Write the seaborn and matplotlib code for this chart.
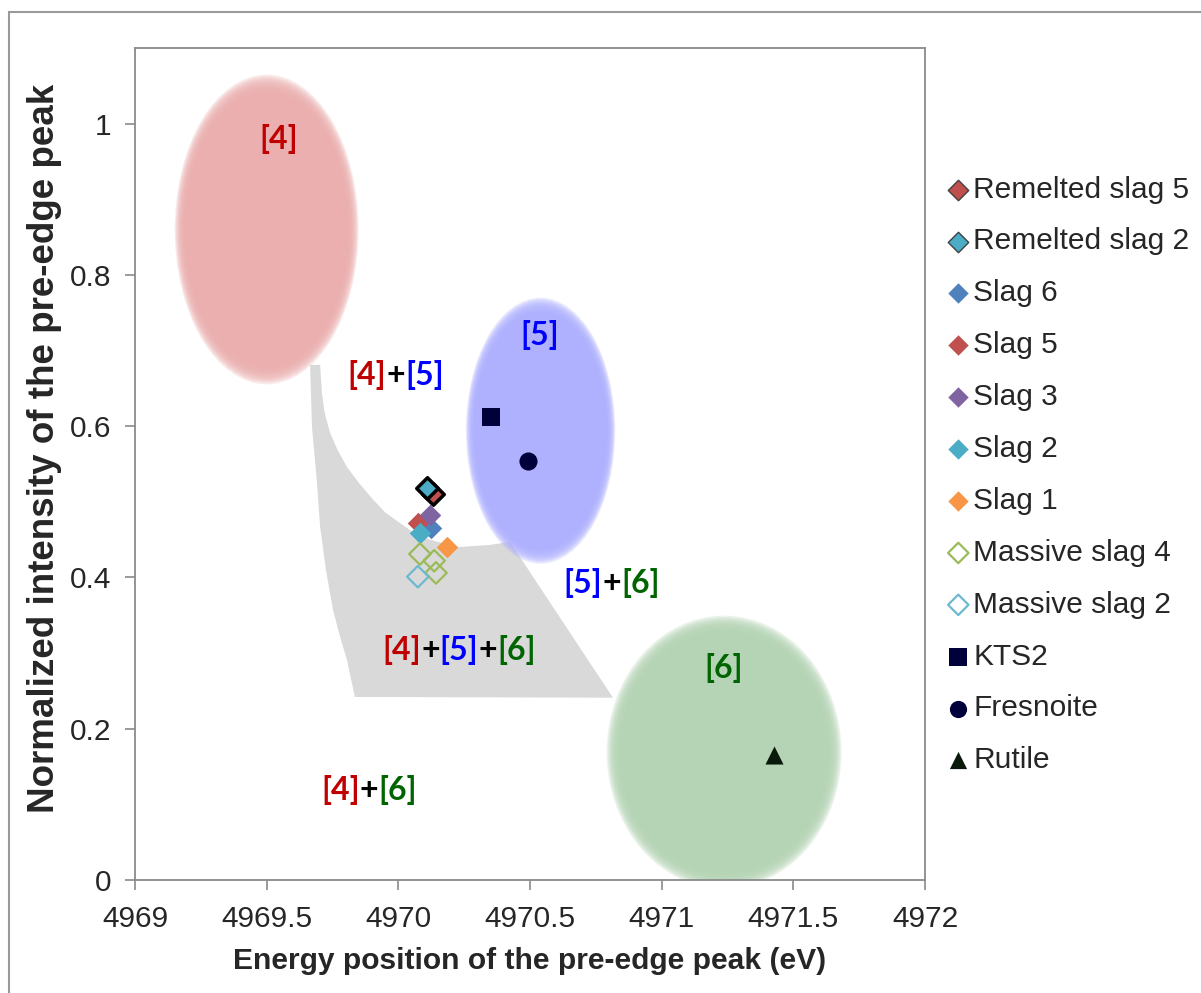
import numpy as np
import pandas as pd
import matplotlib
matplotlib.use("Agg")
import matplotlib.pyplot as plt
import seaborn as sns
from matplotlib.patches import Ellipse, Polygon, Rectangle
from matplotlib.offsetbox import TextArea, HPacker, AnnotationBbox
from matplotlib.ticker import FuncFormatter, MultipleLocator

# ---- données ----
series = ["Remelted slag 5", "Remelted slag 2", "Slag 6", "Slag 5", "Slag 3", "Slag 2", "Slag 1",
          "Massive slag 4", "Massive slag 2", "KTS2", "Fresnoite", "Rutile"]
energy = [[4970.133], [4970.108], [4970.124], [4970.074], [4970.120], [4970.082], [4970.184],
          [4970.082, 4970.136, 4970.143], [4970.074], [4970.352], [4970.493], [4971.427]]
intensity = [[0.510], [0.518], [0.466], [0.472], [0.483], [0.459], [0.440],
             [0.431, 0.422, 0.406], [0.401], [0.612], [0.554], [0.165]]
markers = ["D", "D", "D", "D", "D", "D", "D", "D", "D", "s", "o", "^"]
face_colors = ["#c0504d", "#4bacc6", "#4f81bd", "#c0504d", "#8064a2", "#4bacc6", "#f79646",
               "none", "none", "#00003a", "#00003a", "#0a1a0a"]
edge_colors = ["black", "black", "#4f81bd", "#c0504d", "#8064a2", "#4bacc6", "#f79646",
               "#9bbb59", "#6cb9d0", "#00003a", "#00003a", "#0a1a0a"]

# zones de coordinence (centre x, centre y, largeur, hauteur)
zone_names = ["[4]", "[5]", "[6]"]
zone_x = [4969.50, 4970.54, 4971.237]
zone_y = [0.86, 0.594, 0.169]
zone_w = [0.665, 0.54, 0.85]
zone_h = [0.39, 0.335, 0.344]
zone_colors = ["#ebaeae", "#aeb0fe", "#b4d4b4"]

# zone mixte [4]+[5]+[6]
mix_x = [4969.665, 4969.672, 4969.690, 4969.703, 4969.725, 4969.752, 4969.780, 4969.805, 4969.835,
         4970.815, 4970.424, 4970.348, 4970.223, 4970.120, 4970.055, 4970.006, 4969.950, 4969.904,
         4969.850, 4969.805, 4969.770, 4969.741, 4969.720, 4969.710, 4969.703]
mix_y = [0.681, 0.599, 0.530, 0.467, 0.410, 0.357, 0.320, 0.291, 0.242,
         0.241, 0.447, 0.443, 0.440, 0.450, 0.460, 0.472, 0.486, 0.503,
         0.525, 0.546, 0.568, 0.591, 0.618, 0.644, 0.681]

# étiquettes
label_parts = [["[4]"], ["[5]"], ["[6]"], ["[4]", "+", "[5]"], ["[5]", "+", "[6]"],
               ["[4]", "+", "[5]", "+", "[6]"], ["[4]", "+", "[6]"]]
label_x = [4969.547, 4970.538, 4971.237, 4969.99, 4970.81, 4970.23, 4969.889]
label_y = [0.98, 0.72, 0.28, 0.668, 0.393, 0.304, 0.119]
part_colors = {"[4]": "#c00000", "[5]": "#0000ff", "[6]": "#006400", "+": "black"}

# ---- figure ----
sns.set_style("white")
plt.rcParams["font.family"] = ["Liberation Sans", "DejaVu Sans"]

fig = plt.figure(figsize=(12.01, 9.93), dpi=100)
ax = fig.add_axes([0.1124, 0.1138, 0.6578, 0.8379])

# cadre extérieur
fig.patches.append(Rectangle((9 / 1201, -0.1), 1.2, 1 - 12 / 993 + 0.1, transform=fig.transFigure,
                             fill=False, edgecolor="#9a9a9a", linewidth=1.5))

ax.add_patch(Polygon(np.column_stack([mix_x, mix_y]), closed=True, facecolor="#d9d9d9",
                     edgecolor="none", zorder=1))

# ellipses floues
for cx, cy, w, h, c in zip(zone_x, zone_y, zone_w, zone_h, zone_colors):
    for s in np.linspace(1.05, 0.93, 12):
        ax.add_patch(Ellipse((cx, cy), w * s, h * s, facecolor=c, edgecolor="none",
                             alpha=0.24, zorder=2))

for name, xs, ys, m, fc, ec in zip(series, energy, intensity, markers, face_colors, edge_colors):
    d = pd.DataFrame({"x": xs, "y": ys})
    size = {"D": 120, "s": 170, "o": 170, "^": 170}[m]
    lw = 2.5 if ec == "black" else (1.6 if fc == "none" else 0)
    sns.scatterplot(data=d, x="x", y="y", marker=m, s=size, color=fc if fc != "none" else ec,
                    facecolor=fc, edgecolor=ec, linewidth=lw, label=name, ax=ax, zorder=5)

for parts, x, y in zip(label_parts, label_x, label_y):
    boxes = [TextArea(p, textprops=dict(color=part_colors[p], fontsize=23, fontweight="bold",
                                        family=["Lato", "DejaVu Sans"])) for p in parts]
    pack = HPacker(children=boxes, align="baseline", pad=0, sep=0)
    ax.add_artist(AnnotationBbox(pack, (x, y), frameon=False, box_alignment=(0.5, 0.5), zorder=6))

ax.set_xlim(4969, 4972)
ax.set_ylim(0, 1.1)
ax.xaxis.set_major_locator(MultipleLocator(0.5))
ax.set_yticks([0, 0.2, 0.4, 0.6, 0.8, 1.0])
fmt = FuncFormatter(lambda v, p: "%g" % v)
ax.xaxis.set_major_formatter(fmt)
ax.yaxis.set_major_formatter(fmt)
ax.tick_params(axis="both", which="major", direction="out", length=7, width=1.2,
               color="#8a8a8a", labelsize=21.5, pad=11, left=True, bottom=True)
ax.tick_params(axis="y", pad=10)
for sp in ax.spines.values():
    sp.set_color("#8a8a8a")
    sp.set_linewidth(1.3)

ax.set_xlabel("Energy position of the pre-edge peak (eV)", fontsize=21.6, fontweight="bold", labelpad=10)
ax.set_ylabel("Normalized intensity of the pre-edge peak", fontsize=26.5, fontweight="bold")
ax.yaxis.set_label_coords(-0.092, 0.519)

leg = ax.legend(loc="upper left", bbox_to_anchor=(1.01, 0.861), frameon=False, fontsize=21.5,
                handletextpad=0.05, handlelength=0.9, labelspacing=0.8, borderaxespad=0,
                markerscale=0.95)
for h in leg.legend_handles:
    try:
        ec = h.get_edgecolor()
        if len(ec) and tuple(np.round(ec[0][:3], 2)) == (0.0, 0.0, 0.0):
            h.set_edgecolor("#404040")
            h.set_linewidth(1.0)
    except Exception:
        pass

fig.savefig("out.png", dpi=100)
